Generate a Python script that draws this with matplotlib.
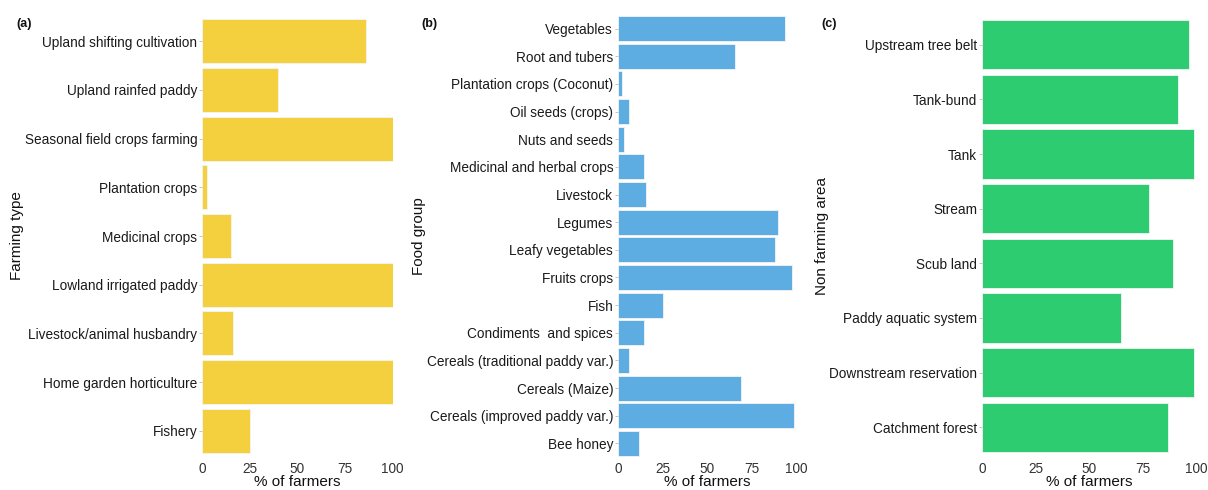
import matplotlib
matplotlib.use("Agg")
import matplotlib.pyplot as plt
import numpy as np

plt.rcParams['font.family'] = ['Liberation Sans', 'DejaVu Sans']

# (a) farming types
farming_types = ["Upland shifting cultivation", "Upland rainfed paddy",
                 "Seasonal field crops farming", "Plantation crops",
                 "Medicinal crops", "Lowland irrigated paddy",
                 "Livestock/animal husbandry", "Home garden horticulture",
                 "Fishery"]
farming_pct = [86, 40, 100, 2.6, 15, 100, 16.5, 100, 25]

# (b) food groups
food_groups = ["Vegetables", "Root and tubers", "Plantation crops (Coconut)",
               "Oil seeds (crops)", "Nuts and seeds",
               "Medicinal and herbal crops", "Livestock", "Legumes",
               "Leafy vegetables", "Fruits crops", "Fish",
               "Condiments  and spices", "Cereals (traditional paddy var.)",
               "Cereals (Maize)", "Cereals (improved paddy var.)", "Bee honey"]
food_pct = [94, 66, 2.2, 6.3, 3.4, 14.6, 16, 90, 88, 98, 25, 14.6, 6.3,
            69, 99, 12]

# (c) non farming areas
nonfarm_areas = ["Upstream tree belt", "Tank-bund", "Tank", "Stream",
                 "Scub land", "Paddy aquatic system", "Downstream reservation",
                 "Catchment forest"]
nonfarm_pct = [96.5, 91.5, 99, 78, 89, 65, 99, 86.5]

x_ticks = [0, 25, 50, 75, 100]
x_title = "% of farmers"

W, H = 1208, 490
fig = plt.figure(figsize=(W / 100, H / 100), dpi=100)
fig.patch.set_facecolor("white")

bottom_px, top_px = 460, 12


def panel(x0_px, x100_px, cats, vals, color, ylab, tag, tag_x, ylab_x):
    left = x0_px / W
    width = (x100_px - x0_px) / W
    bottom = 1 - bottom_px / H
    height = (bottom_px - top_px) / H
    ax = fig.add_axes([left, bottom, width, height])
    n = len(cats)
    pos = np.arange(n)
    ax.barh(pos, vals, height=0.9, color=color, edgecolor="#f4f4f4",
            linewidth=0.6)
    ax.set_ylim(n - 0.4, -0.6)
    ax.set_xlim(0, 100)
    ax.set_yticks(pos)
    ax.set_yticklabels(cats, fontsize=9.8, color="#1a1a1a")
    ax.set_xticks(x_ticks)
    ax.set_xticklabels([str(t) for t in x_ticks], fontsize=9.8,
                       color="#333333")
    ax.tick_params(axis="y", length=2.5, width=0.6, color="#bbbbbb", pad=1)
    ax.tick_params(axis="x", length=0, pad=1.5)
    for s in ax.spines.values():
        s.set_visible(False)
    # axis title sits right at the bottom edge
    fig.text((x0_px + x100_px) / 2 / W, 1.5 / H, x_title, fontsize=11,
             ha="center", va="bottom", color="#111111")
    fig.text(ylab_x / W, 1 - 236 / H, ylab, rotation=90, fontsize=11,
             ha="center", va="center", color="#111111")
    fig.text(tag_x / W, 1 - 24 / H, tag, fontsize=9, fontweight="bold",
             ha="center", va="center", color="#111111")
    return ax


panel(202, 392.5, farming_types, farming_pct, "#F4D03F",
      "Farming type", "(a)", 24, 17)
panel(618, 796, food_groups, food_pct, "#5DADE2",
      "Food group", "(b)", 429, 419)
panel(982, 1196.5, nonfarm_areas, nonfarm_pct, "#2ECC71",
      "Non farming area", "(c)", 829, 822)

fig.savefig("out.png", dpi=100, facecolor="white")
